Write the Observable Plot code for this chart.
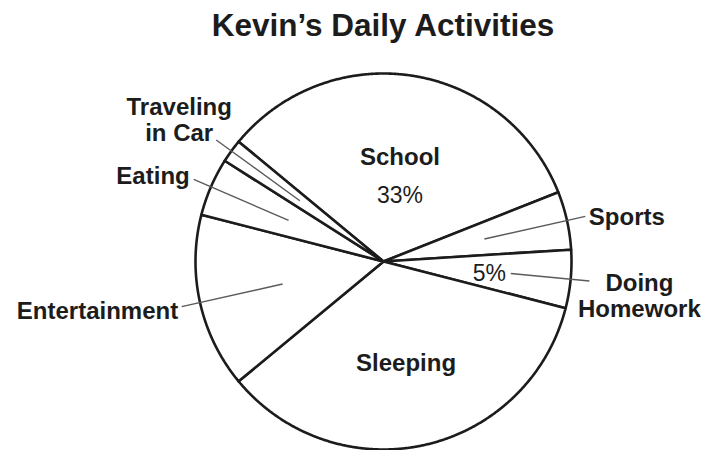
<!DOCTYPE html>
<html><head><meta charset="utf-8">
<script src="https://cdn.jsdelivr.net/npm/d3@7"></script>
<script src="https://cdn.jsdelivr.net/npm/@observablehq/plot@0.6"></script>
<style>body{margin:0;background:#fff;} svg{display:block;}</style>
</head><body><div id="chart"></div>
<script>
// ---- data ----
const title = "Kevin’s Daily Activities";
const categories = ["School", "Sports", "Doing Homework", "Sleeping", "Entertainment", "Eating", "Traveling in Car"];
const percents = [33, 5, 5, 35, 15, 5, 2];
const labelTexts = ["School", "Sports", "Doing\nHomework", "Sleeping", "Entertainment", "Eating", "Traveling\nin Car"];
const percentTexts = ["33%", "", "5%", "", "", "", ""];

// ---- layout (positions/styles, not data) ----
const W = 705, H = 450, CX = 383, CY = 261, R = 188;
const startDeg = -50.4;
const labelLayout = {
  "School":           {mode: "inside", r: 0.56, dx: 0, dy: 0},
  "Sleeping":         {mode: "inside", r: 0.55, dx: 0, dy: 1},
  "Sports":           {mode: "outside", r0: 0.55, r1: 1.10, anchor: "start", dx: 3.5, dy: 0},
  "Doing Homework":   {mode: "outside", r0: 0.68, r1: 1.10, anchor: "middle", dx: 50, dy: 15},
  "Entertainment":    {mode: "outside", r0: 0.55, r1: 1.10, anchor: "end", dx: -3.5, dy: 4},
  "Eating":           {mode: "outside", r0: 0.55, r1: 1.10, anchor: "end", dx: -4, dy: -3.5},
  "Traveling in Car": {mode: "outside", r0: 0.55, r1: 1.10, anchor: "middle", dx: -37, dy: -20}
};
const percentLayout = {
  "School":         {r: 0.56, dx: 0, dy: 38},
  "Doing Homework": {r: 0.555, dx: 2, dy: 2}
};

// ---- geometry from data ----
const a0 = startDeg * Math.PI / 180;
const arcs = d3.pie().sort(null).value(d => d).startAngle(a0).endAngle(a0 + 2 * Math.PI)(percents);
const pt = (a, r) => ({x: r * Math.sin(a), y: r * Math.cos(a)});

const slicePts = [];
arcs.forEach((arc, i) => {
  const cat = categories[i];
  slicePts.push({cat, ...pt(0, 0)});
  const n = Math.max(2, Math.ceil((arc.endAngle - arc.startAngle) / 0.005));
  for (let k = 0; k <= n; k++) {
    const a = arc.startAngle + (arc.endAngle - arc.startAngle) * k / n;
    slicePts.push({cat, ...pt(a, 1)});
  }
  slicePts.push({cat, ...pt(0, 0)});
});

const leaders = [], outsideLabels = [], insideLabels = [], pctLabels = [];
arcs.forEach((arc, i) => {
  const cat = categories[i];
  const mid = (arc.startAngle + arc.endAngle) / 2;
  const L = labelLayout[cat];
  if (L.mode === "outside") {
    const p0 = pt(mid, L.r0), p1 = pt(mid, L.r1);
    leaders.push({x1: p0.x, y1: p0.y, x2: p1.x, y2: p1.y});
    outsideLabels.push({...p1, text: labelTexts[i], anchor: L.anchor, dx: L.dx, dy: L.dy});
  } else {
    insideLabels.push({...pt(mid, L.r), text: labelTexts[i], dx: L.dx, dy: L.dy});
  }
  if (percentTexts[i]) {
    const P = percentLayout[cat];
    pctLabels.push({...pt(mid, P.r), text: percentTexts[i], dx: P.dx, dy: P.dy});
  }
});

const ink = "#1c1c1c";
const font = "Liberation Sans, Arial, Helvetica, sans-serif";
const textMarks = (data, opts) => data.map(d => Plot.text([d], {
  x: "x", y: "y", text: "text", dx: d.dx, dy: d.dy, fill: ink, ...opts,
  textAnchor: d.anchor || opts.textAnchor || "middle"
}));

const chart = Plot.plot({
  width: W, height: H,
  margin: 0,
  x: {domain: [-CX / R, (W - CX) / R], axis: null},
  y: {domain: [-(H - CY) / R, CY / R], axis: null},
  style: {fontFamily: font, background: "#fff"},
  marks: [
    Plot.line(slicePts, {x: "x", y: "y", z: "cat", fill: "white", stroke: ink, strokeWidth: 2.6, strokeLinejoin: "round", curve: "linear"}),
    Plot.link(leaders, {x1: "x1", y1: "y1", x2: "x2", y2: "y2", stroke: "#5a5a5a", strokeWidth: 1.4}),
    ...textMarks(insideLabels, {fontSize: 24, fontWeight: "bold", lineAnchor: "middle"}),
    ...textMarks(outsideLabels, {fontSize: 24, fontWeight: "bold", lineAnchor: "middle", lineHeight: 1.08}),
    ...textMarks(pctLabels, {fontSize: 23, fontWeight: "normal", lineAnchor: "middle"}),
    Plot.text([title], {frameAnchor: "top", dx: 30, dy: 35, lineAnchor: "bottom", fontSize: 31.5, fontWeight: "bold", fill: ink})
  ]
});
document.getElementById("chart").appendChild(chart);
</script>
</body></html>
